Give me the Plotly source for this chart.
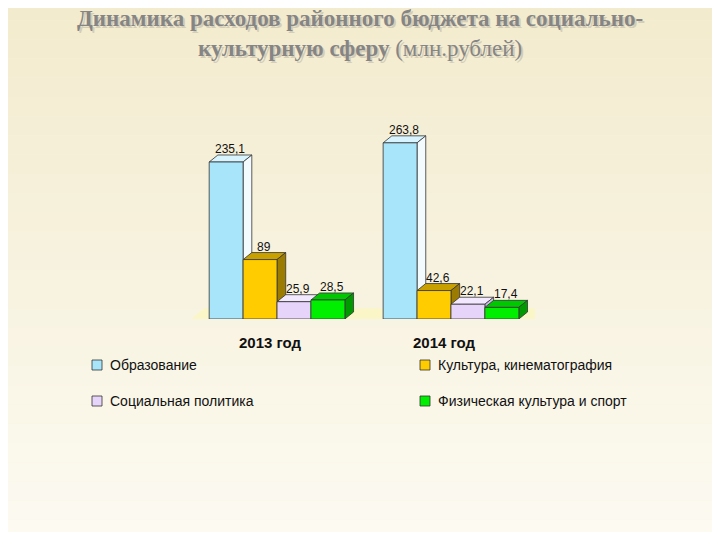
import plotly.graph_objects as go

years = ["2013 год", "2014 год"]
series = ["Образование", "Культура, кинематография", "Социальная политика", "Физическая культура и спорт"]
values = {
    "Образование": [235.1, 263.8],
    "Культура, кинематография": [89, 42.6],
    "Социальная политика": [25.9, 22.1],
    "Физическая культура и спорт": [28.5, 17.4],
}
labels = {
    "Образование": ["235,1", "263,8"],
    "Культура, кинематография": ["89", "42,6"],
    "Социальная политика": ["25,9", "22,1"],
    "Физическая культура и спорт": ["28,5", "17,4"],
}
front = ["#a8e4fa", "#ffcc00", "#e6d4fa", "#00ee00"]
top = ["#d8f4ff", "#c8a000", "#f2e8ff", "#00c800"]
side = ["#f4fbff", "#9c7c00", "#cdb8ea", "#009a00"]

# page has an 8px body margin, so work in reference pixels minus 8
OFF = 8
W, H = 720 - 2 * OFF, 540 - 2 * OFF


def px(x):
    return (x - OFF) / W


def py(y):
    return 1 - (y - OFF) / H


bw = 0.195
dx, dy = 0.05, 10.5

fig = go.Figure()
shapes = []
n = 30
for k in range(n):
    t = k / (n - 1)
    r = int(243 + (253 - 243) * t)
    g = int(235 + (251 - 235) * t)
    b = int(205 + (243 - 205) * t)
    shapes.append(dict(type="rect", xref="paper", yref="paper", x0=-0.1, x1=1.1,
                       y0=1.05 - (k + 1) * 1.1 / n, y1=1.05 - k * 1.1 / n,
                       fillcolor=f"rgb({r},{g},{b})", line_width=0, layer="below"))
shapes.append(dict(type="path", xref="x", yref="y", layer="below",
                   path="M -0.53,-8 L 1.5,-8 L 1.58,16 L -0.42,16 Z",
                   fillcolor="#fbf6c8", line_width=0))

annotations = []
for i, s in enumerate(series):
    xs = [g + (i - 1.5) * bw for g in range(len(years))]
    fig.add_trace(go.Bar(x=xs, y=values[s], width=bw, name=s,
                         marker=dict(color=front[i], line=dict(color="#333333", width=0.8)),
                         showlegend=False, hoverinfo="y"))
    for x, v, lab in zip(xs, values[s], labels[s]):
        x0, x1 = x - bw / 2, x + bw / 2
        shapes.append(dict(type="path", xref="x", yref="y", layer="below",
                           path=f"M {x0},{v} L {x0+dx},{v+dy} L {x1+dx},{v+dy} L {x1},{v} Z",
                           fillcolor=top[i], line=dict(color="#333333", width=0.8)))
        shapes.append(dict(type="path", xref="x", yref="y", layer="below",
                           path=f"M {x1},{v} L {x1+dx},{v+dy} L {x1+dx},{dy} L {x1},0 Z",
                           fillcolor=side[i], line=dict(color="#333333", width=0.8)))
        annotations.append(dict(text=lab, x=x + dx / 2, y=v + dy, xref="x", yref="y",
                                yanchor="bottom", showarrow=False, yshift=-3,
                                font=dict(family="Arial", size=12, color="#111111")))

for line, yy in [("<b>Динамика расходов районного бюджета на социально-</b>", 19),
                 ("<b>культурную сферу</b> (млн.рублей)", 49)]:
    annotations.append(dict(text=line, x=0.5, y=py(yy), xref="paper", yref="paper",
                            yanchor="middle", showarrow=False, xshift=1.5, yshift=-1.5,
                            font=dict(family="Liberation Serif", size=23, color="#d4cdb8")))
    annotations.append(dict(text=line, x=0.5, y=py(yy), xref="paper", yref="paper",
                            yanchor="middle", showarrow=False,
                            font=dict(family="Liberation Serif", size=23, color="#858585")))

for j, yr in enumerate(years):
    annotations.append(dict(text=f"<b>{yr}</b>", x=j - 0.04, y=py(342), xref="x", yref="paper",
                            yanchor="middle", showarrow=False,
                            font=dict(family="Arial", size=15, color="#111111")))

legend_pos = [(92, 365), (420, 365), (92, 401), (420, 401)]
for i, s in enumerate(series):
    lx, ly = legend_pos[i]
    shapes.append(dict(type="rect", xref="paper", yref="paper",
                       x0=px(lx), x1=px(lx + 10), y0=py(ly + 5), y1=py(ly - 5),
                       fillcolor=front[i], line=dict(color="#333333", width=0.8)))
    annotations.append(dict(text=s, x=px(lx + 16), y=py(ly), xref="paper", yref="paper",
                            xanchor="left", yanchor="middle", showarrow=False,
                            font=dict(family="Arial", size=14, color="#111111")))

fig.update_layout(
    width=W, height=H,
    margin=dict(l=0, r=0, t=0, b=0),
    paper_bgcolor="#f8f2dc", plot_bgcolor="rgba(0,0,0,0)",
    barmode="overlay",
    xaxis=dict(domain=[px(185), px(535)], range=[-0.529, 1.483], visible=False),
    yaxis=dict(domain=[py(319), py(120)], range=[0, 298], visible=False),
    shapes=shapes, annotations=annotations,
)
fig.write_html("out.html")
